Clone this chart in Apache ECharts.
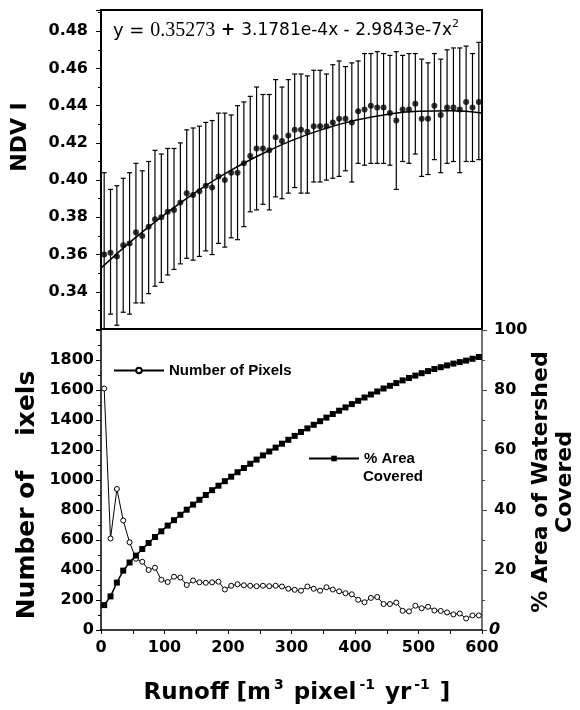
<!DOCTYPE html>
<html>
<head>
<meta charset="utf-8">
<script src="https://cdn.jsdelivr.net/npm/echarts/dist/echarts.min.js"></script>
<style>
  html, body { margin: 0; padding: 0; background: #fff; }
  #main { width: 580px; height: 710px; }
</style>
</head>
<body>
<div id="main"></div>
<script>
// runoff bin centres (m3 pixel-1 yr-1)
var runoff = [5, 15, 25, 35, 45, 55, 65, 75, 85, 95,
  105, 115, 125, 135, 145, 155, 165, 175, 185, 195,
  205, 215, 225, 235, 245, 255, 265, 275, 285, 295,
  305, 315, 325, 335, 345, 355, 365, 375, 385, 395,
  405, 415, 425, 435, 445, 455, 465, 475, 485, 495,
  505, 515, 525, 535, 545, 555, 565, 575, 585, 595];

// NDVI mean and error bar ends
var ndviMean = [0.360, 0.361, 0.359, 0.365, 0.366, 0.372, 0.370, 0.375, 0.379, 0.380,
  0.383, 0.384, 0.388, 0.393, 0.392, 0.394, 0.397, 0.396, 0.402, 0.400,
  0.404, 0.404, 0.409, 0.413, 0.417, 0.417, 0.416, 0.423, 0.421, 0.424,
  0.427, 0.427, 0.426, 0.429, 0.429, 0.429, 0.431, 0.433, 0.433, 0.431,
  0.437, 0.438, 0.440, 0.439, 0.439, 0.436, 0.432, 0.438, 0.438, 0.441,
  0.433, 0.433, 0.440, 0.435, 0.439, 0.439, 0.438, 0.442, 0.439, 0.442];
var ndviUpper = [0.404, 0.395, 0.397, 0.401, 0.404, 0.409, 0.405, 0.410, 0.416, 0.414,
  0.417, 0.417, 0.420, 0.427, 0.428, 0.429, 0.431, 0.432, 0.436, 0.436,
  0.435, 0.440, 0.442, 0.445, 0.450, 0.446, 0.446, 0.454, 0.450, 0.454,
  0.457, 0.457, 0.456, 0.459, 0.459, 0.457, 0.462, 0.464, 0.461, 0.463,
  0.464, 0.468, 0.468, 0.469, 0.468, 0.467, 0.469, 0.467, 0.468, 0.468,
  0.465, 0.463, 0.468, 0.465, 0.470, 0.471, 0.471, 0.472, 0.468, 0.474];
var ndviLower = [0.316, 0.328, 0.322, 0.329, 0.328, 0.334, 0.334, 0.339, 0.343, 0.345,
  0.349, 0.352, 0.355, 0.358, 0.357, 0.359, 0.362, 0.360, 0.366, 0.364,
  0.369, 0.368, 0.375, 0.383, 0.384, 0.387, 0.384, 0.391, 0.390, 0.393,
  0.396, 0.393, 0.393, 0.399, 0.399, 0.400, 0.401, 0.402, 0.405, 0.399,
  0.409, 0.408, 0.409, 0.409, 0.409, 0.408, 0.395, 0.410, 0.409, 0.414,
  0.402, 0.403, 0.411, 0.404, 0.409, 0.410, 0.404, 0.410, 0.410, 0.411];

// fitted curve, read at every 50
var fitX = [0, 50, 100, 150, 200, 250, 300, 350, 400, 450, 500, 550, 600];
var fitY = [0.3527, 0.3679, 0.3815, 0.3937, 0.4044, 0.4135, 0.4212, 0.4274, 0.4321, 0.4353, 0.4370, 0.4373, 0.4360];

// lower panel
var pixelCount = [1610, 610, 940, 730, 585, 475, 455, 400, 415, 335,
  320, 355, 350, 300, 330, 318, 315, 318, 322, 270,
  295, 305, 298, 295, 292, 295, 292, 295, 290, 275,
  268, 262, 290, 275, 262, 285, 270, 258, 245, 238,
  201, 185, 214, 220, 173, 173, 183, 128, 124, 162,
  145, 155, 130, 127, 117, 104, 110, 77, 97, 97];
var areaPct = [8.3, 11.2, 15.8, 19.8, 22.5, 24.8, 27.0, 29.0, 31.0, 32.9,
  34.8, 36.6, 38.4, 40.1, 41.8, 43.4, 45.0, 46.6, 48.1, 49.6,
  51.1, 52.6, 54.0, 55.4, 56.8, 58.2, 59.5, 60.8, 62.1, 63.4,
  64.7, 66.0, 67.2, 68.4, 69.6, 70.8, 72.0, 73.1, 74.2, 75.3,
  76.4, 77.5, 78.5, 79.5, 80.5, 81.4, 82.3, 83.2, 84.0, 84.8,
  85.6, 86.3, 87.0, 87.6, 88.2, 88.8, 89.3, 89.8, 90.4, 91.0];

var tickFont = { fontFamily: 'DejaVu Sans', fontWeight: 'bold', fontSize: 16, color: '#000' };
var legendFont = { fontFamily: 'Liberation Sans', fontWeight: 'bold', fontSize: 15, color: '#000' };

function pairs(xs, ys) {
  return xs.map(function (x, i) { return [x, ys[i]]; });
}

// error bar with small caps
function renderBar(params, api) {
  var x = api.value(0);
  var lo = api.coord([x, api.value(1)]);
  var hi = api.coord([x, api.value(2)]);
  var w = 2.5;
  var st = { stroke: '#000', lineWidth: 1.2 };
  return {
    type: 'group',
    children: [
      { type: 'line', shape: { x1: lo[0], y1: lo[1], x2: hi[0], y2: hi[1] }, style: st },
      { type: 'line', shape: { x1: hi[0] - w, y1: hi[1], x2: hi[0] + w, y2: hi[1] }, style: st },
      { type: 'line', shape: { x1: lo[0] - w, y1: lo[1], x2: lo[0] + w, y2: lo[1] }, style: st }
    ]
  };
}

var barData = runoff.map(function (x, i) { return [x, ndviLower[i], ndviUpper[i]]; });

var option = {
  backgroundColor: '#fff',
  animation: false,
  grid: [
    { left: 101, top: 10, width: 381, height: 319, show: true, borderColor: '#000', borderWidth: 2, containLabel: false, outerBoundsMode: 'none' },
    { left: 101, top: 330, width: 381, height: 300, containLabel: false, outerBoundsMode: 'none' }
  ],
  xAxis: [
    { gridIndex: 0, type: 'value', min: 0, max: 600, show: false },
    {
      gridIndex: 1, type: 'value', min: 0, max: 600, interval: 100,
      axisLine: { show: true, lineStyle: { color: '#000', width: 1.5 } },
      axisTick: { show: true, length: 4, lineStyle: { color: '#000' } },
      minorTick: { show: true, splitNumber: 2, length: 4, lineStyle: { color: '#000' } },
      splitLine: { show: false },
      axisLabel: Object.assign({ margin: 10, formatter: function (v) { return String(v); } }, tickFont)
    }
  ],
  yAxis: [
    {
      gridIndex: 0, type: 'value', min: 0.32, max: 0.4914, interval: 0.02,
      axisLine: { show: false },
      axisTick: { show: true, length: 5, lineStyle: { color: '#000' } },
      minorTick: { show: true, splitNumber: 2, length: 3, lineStyle: { color: '#000' } },
      splitLine: { show: false },
      axisLabel: Object.assign({
        margin: 13, showMinLabel: false, showMaxLabel: false,
        formatter: function (v) { return v.toFixed(2); }
      }, tickFont)
    },
    {
      gridIndex: 1, type: 'value', min: 0, max: 2000, interval: 200,
      axisLine: { show: true, lineStyle: { color: '#000', width: 1.5 } },
      axisTick: { show: true, length: 5, lineStyle: { color: '#000' } },
      minorTick: { show: true, splitNumber: 2, length: 3, lineStyle: { color: '#000' } },
      splitLine: { show: false },
      axisLabel: Object.assign({
        margin: 7, showMaxLabel: false,
        formatter: function (v) { return String(v); }
      }, tickFont)
    },
    {
      gridIndex: 1, type: 'value', position: 'right', min: 0, max: 100, interval: 20,
      axisLine: { show: true, lineStyle: { color: '#444', width: 1.5 } },
      axisTick: { show: true, length: 5, lineStyle: { color: '#444' } },
      minorTick: { show: true, splitNumber: 2, length: 3, lineStyle: { color: '#444' } },
      splitLine: { show: false },
      axisLabel: Object.assign({
        margin: 12,
        formatter: function (v) { return v === 0 ? '{i|0}' : String(v); },
        rich: { i: { fontFamily: 'DejaVu Sans', fontStyle: 'italic', fontWeight: 'bold', fontSize: 16, color: '#000', padding: [0, 0, 0, -5] } }
      }, tickFont)
    }
  ],
  legend: [
    {
      data: ['Number of Pixels'], left: 113, top: 363, padding: 0,
      itemWidth: 50, itemHeight: 7, selectedMode: false, textStyle: legendFont
    },
    {
      data: ['% Area'], left: 308, top: 451, padding: 0,
      itemWidth: 50, itemHeight: 7, selectedMode: false, textStyle: legendFont
    }
  ],
  graphic: [
    {
      type: 'text', x: 113, y: 31, z: 100,
      style: {
        text: '{y|y = }{t|0.35273}{p| + }{n|3.1781e-4x - 2.9843e-7x}{s|2}',
        verticalAlign: 'middle', textVerticalAlign: 'middle',
        rich: {
          y: { fontFamily: 'DejaVu Sans', fontSize: 18, fill: '#000', lineHeight: 24 },
          t: { fontFamily: 'Liberation Serif', fontSize: 20, fill: '#000', lineHeight: 24 },
          p: { fontFamily: 'DejaVu Sans', fontWeight: 'bold', fontSize: 17, fill: '#000', lineHeight: 24 },
          n: { fontFamily: 'DejaVu Sans', fontSize: 17, fill: '#000', lineHeight: 24 },
          s: { fontFamily: 'DejaVu Sans', fontSize: 11, fill: '#000', lineHeight: 12, verticalAlign: 'top' }
        }
      }
    },
    {
      type: 'text', x: 20, y: 137, rotation: Math.PI / 2,
      style: {
        text: 'NDV I', font: 'bold 22px "DejaVu Sans"', fill: '#000',
        align: 'center', textAlign: 'center', verticalAlign: 'middle', textVerticalAlign: 'middle'
      }
    },
    {
      type: 'text', x: 27, y: 495, rotation: Math.PI / 2,
      style: {
        text: 'Number of    ixels', font: 'bold 25px "DejaVu Sans"', fill: '#000',
        align: 'center', textAlign: 'center', verticalAlign: 'middle', textVerticalAlign: 'middle'
      }
    },
    {
      type: 'text', x: 553, y: 482, rotation: Math.PI / 2,
      style: {
        text: '% Area of Watershed\nCovered', font: 'bold 22px "DejaVu Sans"', fill: '#000', lineHeight: 24,
        align: 'center', textAlign: 'center', verticalAlign: 'middle', textVerticalAlign: 'middle'
      }
    },
    {
      type: 'text', x: 363, y: 477,
      style: {
        text: 'Covered', font: 'bold 15px "Liberation Sans"', fill: '#000',
        verticalAlign: 'middle', textVerticalAlign: 'middle'
      }
    },
    {
      type: 'text', x: 297, y: 693,
      style: {
        text: '{b|Runoff [m}{s|3}{b| pixel}{s|-1}{b| yr}{s|-1}{b| ]}',
        align: 'center', textAlign: 'center', verticalAlign: 'middle', textVerticalAlign: 'middle',
        rich: {
          b: { fontFamily: 'DejaVu Sans', fontWeight: 'bold', fontSize: 23, fill: '#000', lineHeight: 30 },
          s: { fontFamily: 'DejaVu Sans', fontWeight: 'bold', fontSize: 14, fill: '#000', lineHeight: 20, verticalAlign: 'top', padding: [0, 2, 0, 3] }
        }
      }
    }
  ],
  series: [
    {
      name: 'errors', type: 'custom', xAxisIndex: 0, yAxisIndex: 0,
      renderItem: renderBar, data: barData, clip: true, z: 2
    },
    {
      name: 'fit', type: 'line', xAxisIndex: 0, yAxisIndex: 0,
      data: pairs(fitX, fitY), smooth: true, showSymbol: false,
      lineStyle: { color: '#000', width: 1.5 }, z: 3
    },
    {
      name: 'NDVI', type: 'scatter', xAxisIndex: 0, yAxisIndex: 0,
      data: pairs(runoff, ndviMean), symbol: 'circle', symbolSize: 6,
      itemStyle: { color: '#000' }, z: 4
    },
    {
      name: 'Number of Pixels', type: 'line', xAxisIndex: 1, yAxisIndex: 1,
      data: pairs(runoff, pixelCount), symbol: 'circle', symbolSize: 5,
      lineStyle: { color: '#000', width: 1 },
      itemStyle: { color: '#fff', borderColor: '#000', borderWidth: 1 }, z: 3
    },
    {
      name: '% Area', type: 'line', xAxisIndex: 1, yAxisIndex: 2,
      data: pairs(runoff, areaPct), symbol: 'rect', symbolSize: 6,
      lineStyle: { color: '#000', width: 1.5 },
      itemStyle: { color: '#000' }, z: 4
    }
  ]
};

var chart = echarts.init(document.getElementById('main'));
chart.setOption(option, true);
</script>
</body>
</html>
